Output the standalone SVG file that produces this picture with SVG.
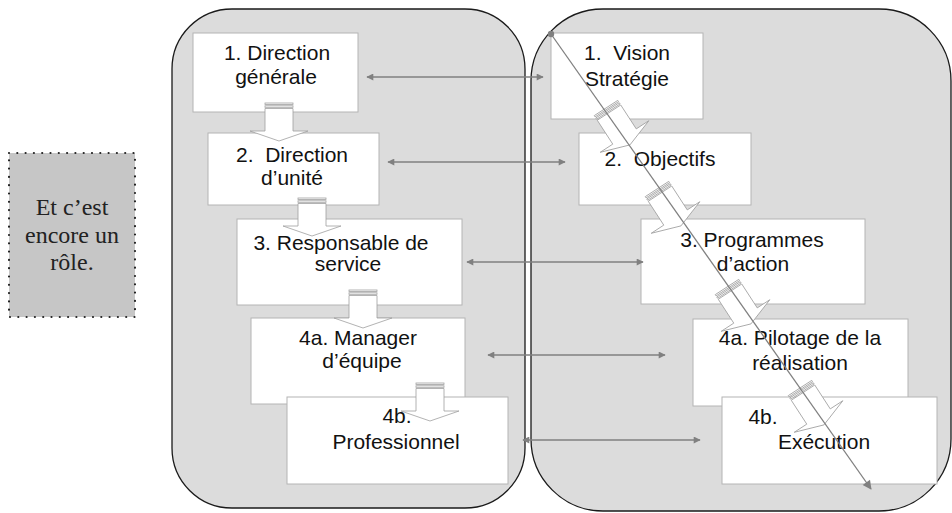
<svg xmlns="http://www.w3.org/2000/svg" width="952" height="513" viewBox="0 0 952 513">
<defs>
<style>
.panel{fill:#dcdcdc;stroke:#1a1a1a;stroke-width:1.3}
.box{fill:#fff;stroke:#b4b4b4;stroke-width:1}
.t{font-family:"Liberation Sans",Arial,sans-serif;font-size:21px;fill:#111;text-anchor:middle}
.note{font-family:"Liberation Serif","Times New Roman",serif;font-size:24px;fill:#222;text-anchor:middle}
.conn{stroke:#808080;stroke-width:1.3;fill:none}
.blk{fill:#fff;stroke:#a0a0a0;stroke-width:0.8}
</style>
<marker id="ah" viewBox="0 0 10 10" refX="9" refY="5" markerWidth="8" markerHeight="7" markerUnits="userSpaceOnUse" orient="auto-start-reverse"><path d="M0,0 L10,5 L0,10 z" fill="#808080"/></marker>
<marker id="ahL" viewBox="0 0 10 10" refX="9" refY="5" markerWidth="11" markerHeight="9" markerUnits="userSpaceOnUse" orient="auto"><path d="M0,0 L10,5 L0,10 z" fill="#808080"/></marker>
<g id="ba">
<rect x="-14" y="0" width="28" height="1.5" class="blk"/>
<rect x="-14" y="2.8" width="28" height="1.5" class="blk"/>
<path d="M-14,5.5 H14 V28 H29 L0,38 L-29,28 H-14 Z" class="blk"/>
</g>
<g id="ba2">
<rect x="-14" y="0" width="28" height="1.5" class="blk"/>
<rect x="-14" y="2.8" width="28" height="1.5" class="blk"/>
<path d="M-14,5.5 H14 V34 H29 L0,44 L-29,34 H-14 Z" class="blk"/>
</g>
</defs>

<g id="note">
<rect x="9" y="153" width="126" height="164" fill="#c6c6c6" stroke="#222" stroke-width="2.2" stroke-dasharray="0 8.3" stroke-linecap="round"/>
<text class="note" x="72" y="215">Et c’est</text>
<text class="note" x="72" y="243">encore un</text>
<text class="note" x="72" y="270">rôle.</text>
</g>

<g id="panel-left"><rect class="panel" x="172" y="9" width="353" height="499" rx="60" ry="60"/></g>
<g id="panel-right"><rect class="panel" x="531" y="9" width="420" height="502" rx="72" ry="72"/></g>

<g id="n-direction-generale"><rect class="box" x="193" y="33" width="165" height="79"/>
<text class="t" x="277" y="60">1. Direction</text><text class="t" x="276" y="84">générale</text></g>
<g id="n-direction-unite"><rect class="box" x="208" y="133" width="171" height="72"/>
<text class="t" x="292" y="162">2.&#160; Direction</text><text class="t" x="292" y="185">d’unité</text></g>
<g id="n-responsable"><rect class="box" x="237" y="219" width="225" height="86"/>
<text class="t" x="341" y="250">3. Responsable de</text><text class="t" x="348" y="271">service</text></g>
<g id="n-manager"><rect class="box" x="251" y="318" width="214" height="86"/>
<text class="t" x="358" y="345">4a. Manager</text><text class="t" x="362" y="368">d’équipe</text></g>
<g id="n-professionnel"><rect class="box" x="287" y="397" width="221" height="87"/>
<text class="t" x="397" y="423">4b.</text><text class="t" x="396" y="449">Professionnel</text></g>

<g id="n-vision"><rect class="box" x="551" y="33" width="152" height="86"/>
<text class="t" x="627" y="60">1.&#160; Vision</text><text class="t" x="627" y="86">Stratégie</text></g>
<g id="n-objectifs"><rect class="box" x="579" y="133" width="172" height="72"/>
<text class="t" x="660" y="166">2.&#160; Objectifs</text></g>
<g id="n-programmes"><rect class="box" x="641" y="219" width="224" height="85"/>
<text class="t" x="752" y="247">3. Programmes</text><text class="t" x="753" y="271">d’action</text></g>
<g id="n-pilotage"><rect class="box" x="693" y="319" width="215" height="87"/>
<text class="t" x="800" y="345">4a. Pilotage de la</text><text class="t" x="800" y="370">réalisation</text></g>
<g id="n-execution"><rect class="box" x="722" y="397" width="215" height="87"/>
<text class="t" x="763" y="424">4b.</text><text class="t" x="824" y="449">Exécution</text></g>

<g id="connectors">
<use href="#ba" transform="translate(279,103)"/>
<use href="#ba" transform="translate(312,198)"/>
<use href="#ba" transform="translate(363,290)"/>
<use href="#ba" transform="translate(430,383)"/>
<use href="#ba2" transform="translate(606,108) rotate(-33)"/>
<use href="#ba2" transform="translate(657,189) rotate(-33)"/>
<use href="#ba2" transform="translate(727,287) rotate(-33)"/>
<use href="#ba2" transform="translate(800,388) rotate(-33)"/>
<line class="conn" x1="367" y1="77" x2="543" y2="77" marker-start="url(#ah)" marker-end="url(#ah)"/>
<line class="conn" x1="388" y1="162" x2="565" y2="162" marker-start="url(#ah)" marker-end="url(#ah)"/>
<line class="conn" x1="467" y1="262" x2="643" y2="262" marker-start="url(#ah)" marker-end="url(#ah)"/>
<line class="conn" x1="488" y1="355" x2="665" y2="355" marker-start="url(#ah)" marker-end="url(#ah)"/>
<line class="conn" x1="523" y1="440" x2="700" y2="440" marker-start="url(#ah)" marker-end="url(#ah)"/>
<line class="conn" x1="551" y1="34" x2="871" y2="489" stroke-width="1.2" marker-end="url(#ahL)"/>
<circle cx="551" cy="34" r="3.2" fill="#808080"/>
</g>
</svg>
